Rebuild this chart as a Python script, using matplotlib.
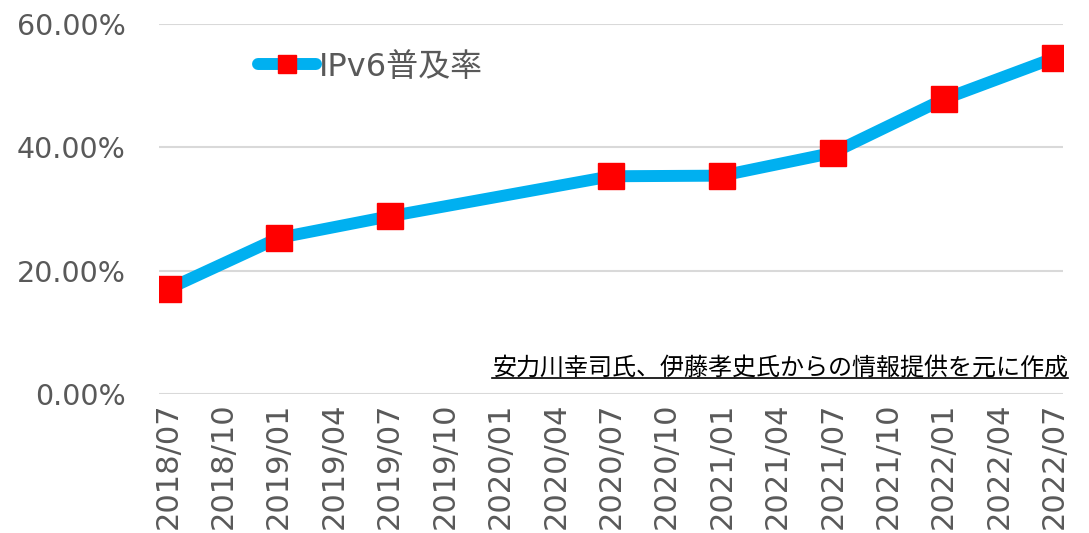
import matplotlib
matplotlib.use("Agg")
import matplotlib.pyplot as plt
from matplotlib.lines import Line2D

plt.rcParams['font.family'] = ['DejaVu Sans', 'Noto Sans CJK JP']

# 四半期ラベル
labels = ['2018/07', '2018/10', '2019/01', '2019/04', '2019/07', '2019/10',
          '2020/01', '2020/04', '2020/07', '2020/10', '2021/01', '2021/04',
          '2021/07', '2021/10', '2022/01', '2022/04', '2022/07']
# データのある時点
data_labels = ['2018/07', '2019/01', '2019/07', '2020/07', '2021/01',
               '2021/07', '2022/01', '2022/07']
ipv6_rate = [0.170, 0.253, 0.288, 0.353, 0.354, 0.391, 0.478, 0.545]
yticks = [0.0, 0.2, 0.4, 0.6]
note = '安力川幸司氏、伊藤孝史氏からの情報提供を元に作成'

gray = '#595959'
fig = plt.figure(figsize=(10.89, 5.33), dpi=100)
ax = fig.add_axes([0.146, 0.261, 0.830, 0.694])

xpos = [labels.index(d) for d in data_labels]
ax.plot(xpos, ipv6_rate, color='#00B0F0', lw=8.6, marker='s', ms=18.5,
        mfc='#FF0000', mec='#FF0000', solid_capstyle='round',
        label='IPv6普及率', zorder=3)

ax.set_xlim(-0.16, 16.15)
ax.set_ylim(0, 0.6)
ax.set_xticks(range(len(labels)))
ax.set_xticklabels(labels, rotation=90, fontsize=22, color=gray)
ax.set_yticks(yticks)
ax.set_yticklabels(['%.2f%%' % (v * 100) for v in yticks], fontsize=20.5, color=gray)
ax.tick_params(axis='y', length=0, pad=24)
ax.tick_params(axis='x', length=0, pad=6)
ax.grid(axis='y', color='#d9d9d9', lw=1.5)
ax.set_axisbelow(True)
for s in ax.spines.values():
    s.set_visible(False)

leg_handle = Line2D([0], [0], color='#00B0F0', lw=8.6, marker='s', ms=13,
                    mfc='#FF0000', mec='#FF0000', solid_capstyle='round')
leg = fig.legend([leg_handle], ['IPv6普及率'], loc='center left',
                 bbox_to_anchor=(0.237, 0.874), frameon=False, fontsize=23,
                 handlelength=1.8, handletextpad=0.1, borderpad=0, borderaxespad=0)
for t in leg.get_texts():
    t.set_color(gray)

txt = fig.text(0.981, 0.311, note, ha='right', va='center', fontsize=17.3,
               color='black', family=['Noto Sans CJK JP', 'DejaVu Sans'])
fig.canvas.draw()
bb = txt.get_window_extent().transformed(fig.transFigure.inverted())
fig.add_artist(Line2D([bb.x0, bb.x1], [bb.y0 + 0.004, bb.y0 + 0.004],
                      color='black', lw=1.2, transform=fig.transFigure))

fig.savefig('out.png', dpi=100)
